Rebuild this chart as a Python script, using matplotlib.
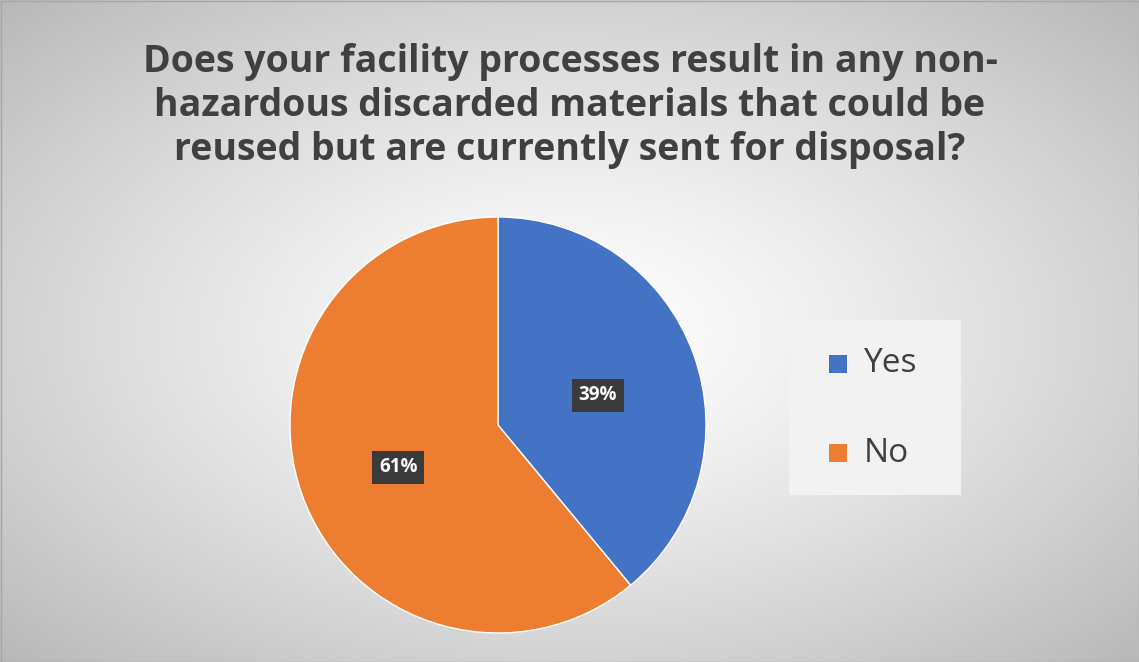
import matplotlib
matplotlib.use("Agg")
import matplotlib.pyplot as plt
import numpy as np
from matplotlib.patches import Rectangle

labels = ["Yes", "No"]
values = [39, 61]
colors = ["#4472C4", "#ED7D31"]
title = "Does your facility processes result in any non-\nhazardous discarded materials that could be\nreused but are currently sent for disposal?"

W, H = 1139, 662
fig = plt.figure(figsize=(W/100, H/100), dpi=100)

# radial gradient background
bg = fig.add_axes([0, 0, 1, 1])
yy, xx = np.mgrid[0:H, 0:W]
r = np.sqrt(((xx - W/2)/(W/2))**2 + ((yy - H/2)/(H/2))**2) / np.sqrt(2)
v = 1.0 - 0.28*np.clip(r, 0, 1)**1.3
bg.imshow(np.dstack([v, v, v]), extent=[0, W, H, 0], aspect="auto")
bg.add_patch(Rectangle((0.5, 0.5), W-1, H-1, fill=False, edgecolor="#a6a6a6", lw=1))
bg.add_patch(Rectangle((789, 320), 172, 175, facecolor="#f2f2f2", edgecolor="none"))
bg.set_xlim(0, W); bg.set_ylim(H, 0); bg.axis("off")

bg.text(570, 106, title, ha="center", va="center", fontsize=27, fontweight="bold",
        color="#404040", family="Open Sans", linespacing=1.2)

ax = fig.add_axes([290/W, (H-633)/H, 416/W, 416/H])
wedges, _ = ax.pie(values, colors=colors, startangle=90, counterclock=False,
                   wedgeprops=dict(edgecolor="white", linewidth=1))
ax.set_xlim(-1, 1); ax.set_ylim(-1, 1); ax.set_aspect("auto")

for w, val in zip(wedges, values):
    ang = np.deg2rad((w.theta1 + w.theta2) / 2)
    x, y = 0.51*np.cos(ang), 0.51*np.sin(ang) - 0.03
    ax.text(x, y, f"{val}%", ha="center", va="center", color="white", fontsize=13.5,
            fontweight="bold", family="Open Sans",
            bbox=dict(boxstyle="square,pad=0.35", facecolor="#3a3a3a", edgecolor="none"))

for i, (lab, c) in enumerate(zip(labels, colors)):
    yc = 364 + i*89
    bg.add_patch(Rectangle((829, yc-9), 18, 18, facecolor=c))
    bg.text(864, yc, lab, va="center", ha="left", fontsize=24, color="#404040", family="Open Sans")

fig.savefig("out.png", dpi=100)
